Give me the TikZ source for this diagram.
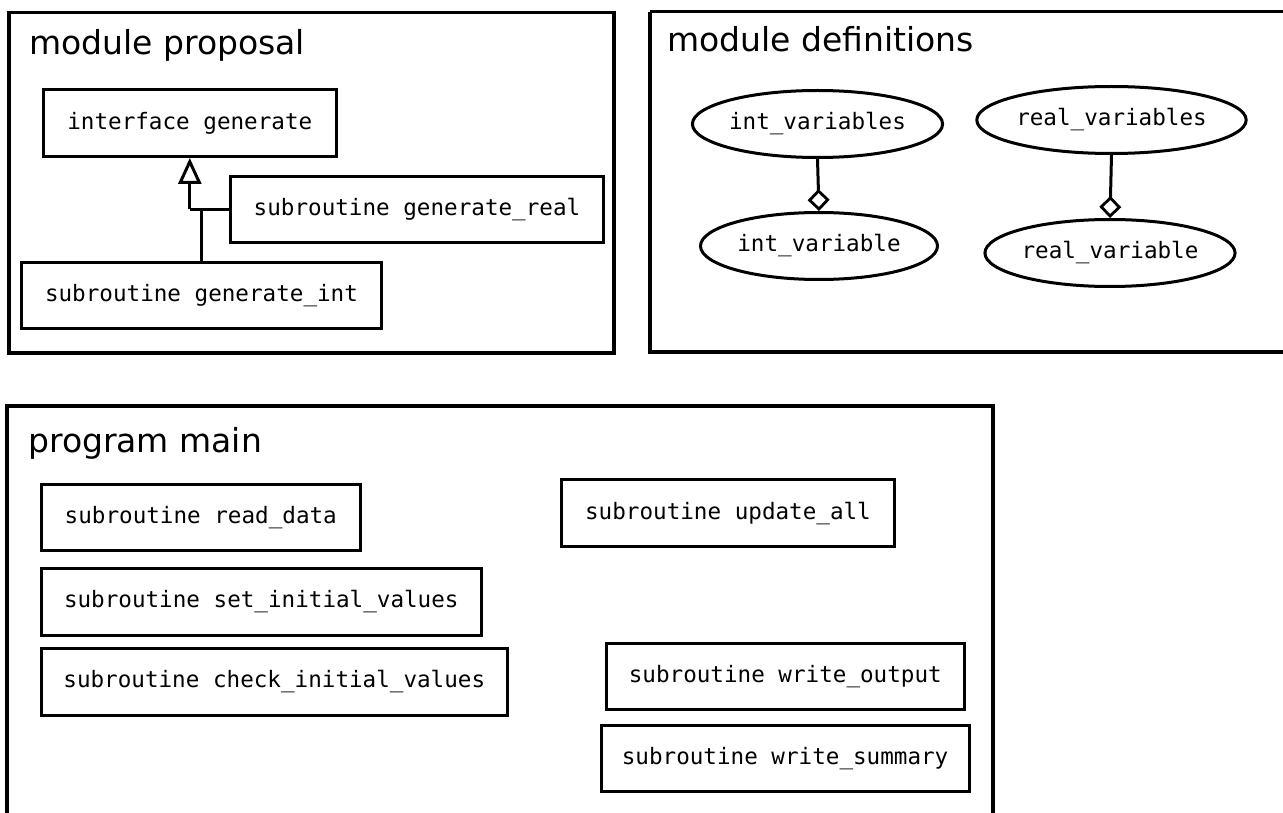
\documentclass[tikz,border=0pt]{standalone}
\usepackage{fontspec}
\setmainfont{DejaVu Sans}
\setmonofont{DejaVu Sans Mono}
\usetikzlibrary{arrows.meta,shapes.geometric}
\begin{document}
\begin{tikzpicture}[x=1pt,y=-1pt,
  frame/.style={draw,line width=3.4pt},
  title/.style={anchor=base west,inner sep=0pt,font=\fontsize{33}{36}\selectfont},
  box/.style={draw,line width=3pt,inner sep=0pt,font=\ttfamily\fontsize{22.6}{26}\selectfont},
  oval/.style={draw,ellipse,line width=3pt,inner sep=0pt,font=\ttfamily\fontsize{22.6}{26}\selectfont},
  conn/.style={line width=3pt,line join=miter},
  inh/.style={conn,-{Triangle[open,length=26pt,width=23pt,line width=3pt]}},
  agg/.style={conn,-{Diamond[open,length=22pt,width=22pt,line width=2.8pt]}}]
\useasboundingbox (0,0) rectangle (1283,813);
\fill[white] (0,0) rectangle (1283,813);

% frames
\draw[frame] (9,12.7) rectangle (614,353);
\draw[frame] (650,11.7) -- (1295,11.7) (650,11.7) -- (650,352) -- (1295,352);
\draw[frame] (7,406) rectangle (993,830);

\node[title] (tp) at (29,55) {module proposal};
\node[title] (td) at (667,52) {module definitions};
\node[title] (tm) at (28,452) {program main};

% module proposal
\node[box,minimum width=293pt,minimum height=67pt] (ig) at (189.8,123) {interface generate};
\node[box,minimum width=373pt,minimum height=66pt] (gr) at (417,209.5) {subroutine generate\_real};
\node[box,minimum width=360pt,minimum height=66pt] (gi) at (201.5,295.5) {subroutine generate\_int};
\coordinate (j) at (189.8,209.5);
\draw[conn] (gi.north) |- (j);
\draw[conn] (gr.west) -- (j);
\draw[inh] (j) -- (ig.south);

% module definitions
\node[oval,minimum width=250pt,minimum height=67pt] (ivs) at (817.5,124) {int\_variables};
\node[oval,minimum width=237pt,minimum height=67pt] (iv) at (819,246) {int\_variable};
\node[oval,minimum width=264pt,minimum height=67pt] (rvs) at (1111.5,120) {real\_variables};
\node[oval,minimum width=250pt,minimum height=67pt] (rv) at (1110,253) {real\_variable};
\draw[agg] (ivs.south) -- (iv.north);
\draw[agg] (rvs.south) -- (rv.north);

% program main
\node[box,minimum width=319.5pt,minimum height=66.6pt] (rd) at (200.8,517.5) {subroutine read\_data};
\node[box,minimum width=440.5pt,minimum height=67pt] (siv) at (261.3,601.7) {subroutine set\_initial\_values};
\node[box,minimum width=466.5pt,minimum height=67pt] (civ) at (274.3,681.7) {subroutine check\_initial\_values};
\node[box,minimum width=333pt,minimum height=67pt] (ua) at (728,513.3) {subroutine update\_all};
\node[box,minimum width=358.4pt,minimum height=66.3pt] (wo) at (785.3,676.3) {subroutine write\_output};
\node[box,minimum width=368.2pt,minimum height=66pt] (ws) at (785.1,758.8) {subroutine write\_summary};
\end{tikzpicture}
\end{document}
